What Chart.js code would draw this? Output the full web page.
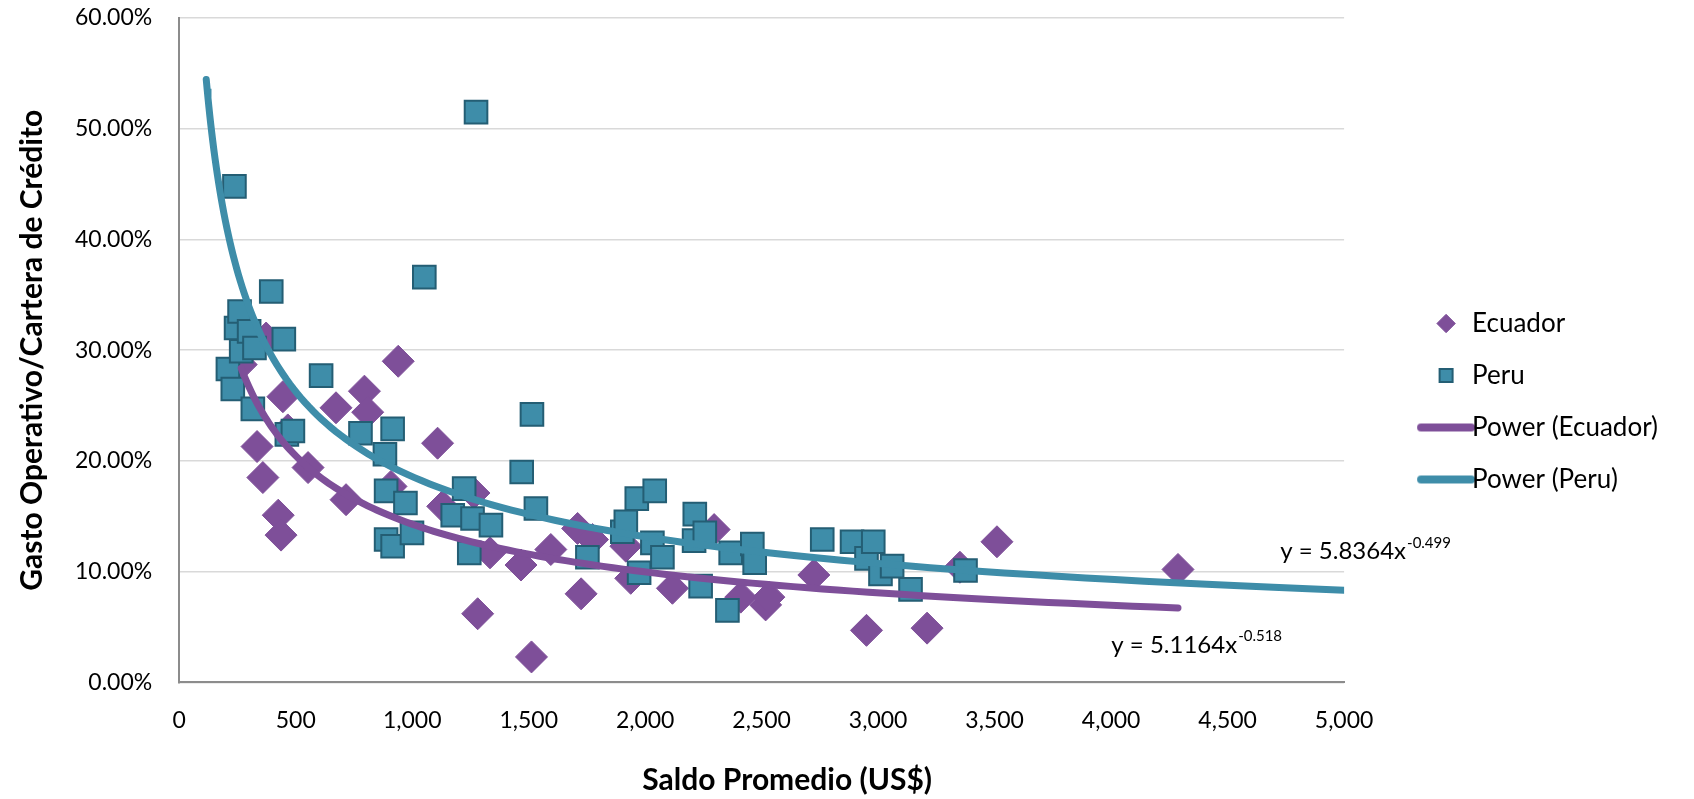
<!DOCTYPE html>
<html>
<head>
<meta charset="utf-8">
<script src="https://cdn.jsdelivr.net/npm/chart.js@4.4.1/dist/chart.umd.min.js"></script>
<style>
  html, body { margin: 0; padding: 0; background: #fff; }
  #wrap { width: 1694px; height: 799px; }
</style>
</head>
<body>
<div id="wrap"><canvas id="scatter-chart"></canvas></div>
<script>
// Saldo promedio (US$) vs gasto operativo / cartera (%)
const ecuadorX = [266, 334, 359, 373, 425, 437, 445, 466, 553, 673, 716, 795, 809, 909, 940,
  1109, 1131, 1265, 1281, 1334, 1467, 1512, 1595, 1710, 1725, 1774, 1917, 1938, 2117, 2296,
  2410, 2517, 2531, 2724, 2950, 3210, 3351, 3510, 4287];
const ecuadorY = [28.7, 21.3, 18.5, 31.1, 15.1, 13.3, 25.8, 22.8, 19.4, 24.8, 16.5, 26.3, 24.4, 17.7, 29.0,
  21.6, 15.9, 17.1, 6.2, 11.7, 10.6, 2.3, 12.0, 13.9, 8.0, 12.9, 12.3, 9.4, 8.5, 13.8,
  7.7, 7.0, 7.7, 9.7, 4.7, 4.9, 10.4, 12.7, 10.2];

const peruX = [209, 230, 237, 244, 259, 266, 300, 316, 323, 395, 449, 462, 488, 609, 778,
  883, 888, 888, 916, 916, 971, 999, 1052, 1174, 1223, 1245, 1259, 1274, 1338, 1470,
  1514, 1531, 1752, 1902, 1917, 1964, 1974, 2031, 2041, 2074, 2210, 2213, 2238, 2256, 2353,
  2367, 2460, 2470, 2760, 2888, 2950, 2979, 3010, 3060, 3139, 3375];
const peruY = [28.3, 26.5, 44.8, 32.0, 33.5, 29.9, 31.7, 24.7, 30.2, 35.3, 31.0, 22.4, 22.7, 27.7, 22.5,
  20.6, 17.3, 12.9, 22.9, 12.3, 16.2, 13.5, 36.6, 15.1, 17.5, 11.7, 14.8, 51.5, 14.2, 19.0,
  24.2, 15.7, 11.3, 13.6, 14.5, 16.6, 9.9, 12.6, 17.3, 11.3, 12.8, 15.2, 8.7, 13.5, 6.5,
  11.7, 12.5, 10.8, 12.9, 12.7, 11.2, 12.7, 9.8, 10.5, 8.4, 10.1];

// power trendlines as printed on the chart: y = a * x^b
const trendNames = ["Power (Ecuador)", "Power (Peru)"];
const trendCoef = [5.1164, 5.8364];
const trendExp = [-0.518, -0.499];
const trendFrom = [266, 116];
const trendTo = [4287, 5000];

const xTicks = [0, 500, 1000, 1500, 2000, 2500, 3000, 3500, 4000, 4500, 5000];
const yTicks = [0, 10, 20, 30, 40, 50, 60];

const purple = "#7e4f99";
const teal = "#3e8da9";
const tealDark = "#245e74";

Chart.defaults.font.family = "Lato";
Chart.defaults.color = "#000";

function toPoints(xs, ys) {
  return xs.map((x, i) => ({ x: x, y: ys[i] }));
}

function trendPoints(k) {
  const pts = [];
  const n = 120;
  const ratio = trendTo[k] / trendFrom[k];
  for (let i = 0; i <= n; i++) {
    const x = trendFrom[k] * Math.pow(ratio, i / n);
    pts.push({ x: x, y: 100 * trendCoef[k] * Math.pow(x, trendExp[k]) });
  }
  return pts;
}

function lineIcon(color) {
  const c = document.createElement("canvas");
  c.width = 60;
  c.height = 10;
  const g = c.getContext("2d");
  g.strokeStyle = color;
  g.lineWidth = 8;
  g.lineCap = "round";
  g.beginPath();
  g.moveTo(5, 5);
  g.lineTo(55, 5);
  g.stroke();
  return c;
}

// push the legend a bit away from the plot, like Excel does
const legendGap = 63;
const legendShift = {
  id: "legendShift",
  afterLayout(chart) {
    chart.legend.left += legendGap;
    chart.legend.right += legendGap;
  },
};

const equationLabels = {
  id: "equationLabels",
  afterDatasetsDraw(chart) {
    const { ctx, scales } = chart;
    const anchors = [{ x: 4001, y: 3.35 }, { x: 4726, y: 11.8 }];
    ctx.save();
    ctx.fillStyle = "#000";
    ctx.textBaseline = "middle";
    anchors.forEach((a, k) => {
      const px = scales.x.getPixelForValue(a.x);
      const py = scales.y.getPixelForValue(a.y);
      const main = "y = " + trendCoef[k].toFixed(4) + "x";
      ctx.font = "24px Lato";
      ctx.fillText(main, px, py);
      const w = ctx.measureText(main).width;
      ctx.font = "15px Lato";
      ctx.fillText(trendExp[k].toFixed(3), px + w + 1, py - 9);
    });
    ctx.restore();
  },
};

new Chart(document.getElementById("scatter-chart"), {
  type: "scatter",
  data: {
    datasets: [
      {
        label: "Ecuador",
        data: toPoints(ecuadorX, ecuadorY),
        pointStyle: "rectRot",
        pointRadius: 16,
        backgroundColor: purple,
        borderColor: purple,
        borderWidth: 1,
        order: 4,
      },
      {
        label: "Peru",
        data: toPoints(peruX, peruY),
        pointStyle: "rect",
        pointRadius: 16,
        backgroundColor: teal,
        borderColor: tealDark,
        borderWidth: 2,
        order: 3,
      },
      {
        label: trendNames[0],
        data: trendPoints(0),
        showLine: true,
        pointRadius: 0,
        pointStyle: lineIcon(purple),
        borderColor: purple,
        backgroundColor: purple,
        borderWidth: 7,
        borderCapStyle: "round",
        order: 2,
      },
      {
        label: trendNames[1],
        data: trendPoints(1),
        showLine: true,
        pointRadius: 0,
        pointStyle: lineIcon(teal),
        borderColor: teal,
        backgroundColor: teal,
        borderWidth: 7,
        borderCapStyle: "round",
        order: 1,
      },
    ],
  },
  options: {
    responsive: true,
    maintainAspectRatio: false,
    animation: false,
    events: [],
    layout: { padding: { left: 4, right: 89, top: 5, bottom: 1 } },
    plugins: {
      tooltip: { enabled: false },
      legend: {
        position: "right",
        labels: {
          usePointStyle: true,
          boxHeight: 13,
          padding: 26,
          font: { size: 26 },
          color: "#000",
          sort: (a, b) => a.datasetIndex - b.datasetIndex,
        },
      },
    },
    scales: {
      x: {
        type: "linear",
        min: 0,
        max: 5000,
        afterBuildTicks: (scale) => {
          scale.ticks = xTicks.map((v) => ({ value: v }));
        },
        ticks: {
          callback: (v) => v.toLocaleString("en-US"),
          font: { size: 23 },
          padding: 24,
          maxRotation: 0,
        },
        grid: { display: false, drawTicks: false },
        border: { display: true, color: "#8c8c8c", width: 2 },
        title: {
          display: true,
          // leading spaces nudge the title right, as in the original
          text: "       Saldo Promedio (US$)",
          font: { size: 30, weight: "bold" },
          padding: { top: 4, bottom: 0 },
        },
      },
      y: {
        min: 0,
        max: 60,
        afterBuildTicks: (scale) => {
          scale.ticks = yTicks.map((v) => ({ value: v }));
        },
        ticks: {
          callback: (v) => v.toFixed(2) + "%",
          font: { size: 23 },
          padding: 0,
        },
        grid: {
          color: "#d9d9d9",
          lineWidth: 1.5,
          drawTicks: true,
          tickLength: 27,
          tickColor: "rgba(0,0,0,0)",
        },
        border: { display: true, color: "#8c8c8c", width: 2 },
        title: {
          display: true,
          text: "Gasto Operativo/Cartera de Crédito",
          font: { size: 30, weight: "bold" },
          padding: { top: 10, bottom: 25 },
        },
      },
    },
  },
  plugins: [legendShift, equationLabels],
});
</script>
</body>
</html>
